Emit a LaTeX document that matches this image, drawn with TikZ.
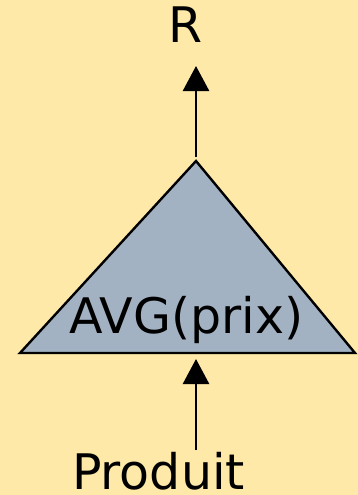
\documentclass[tikz,border=0pt]{standalone}
\usepackage{fontspec}
\setmainfont{DejaVu Sans}
\usetikzlibrary{arrows.meta}
\definecolor{bgyellow}{HTML}{FEE9A8}
\definecolor{opfill}{HTML}{A3B2C2}
\tikzset{
  lbl/.style={font=\fontsize{49}{58}\selectfont, anchor=base, inner sep=0pt},
  flow/.style={line width=2.6pt, -{Triangle[length=25pt,width=26pt]}},
}
\begin{document}
\begin{tikzpicture}[x=1pt,y=-1pt]
\fill[bgyellow] (0,0) rectangle (358,495);
\useasboundingbox (0,0) rectangle (358,495);
\coordinate (apex) at (196,161);
\coordinate (bl) at (20,353);
\coordinate (br) at (355,353);
\draw[fill=opfill, line width=2.4pt, line join=miter] (apex) -- (br) -- (bl) -- cycle;
\node[lbl] (avg) at (186.5,333) {AVG(prix)};
\node[lbl] (r) at (185.5,43) {R};
\node[lbl] (prod) at (158.5,489) {Produit};
\coordinate (rtip) at (196,66);
\coordinate (ptop) at (196,157);
\coordinate (btip) at (196,359);
\coordinate (pbot) at (196,450);
\draw[flow] (ptop) -- (rtip);
\draw[flow] (pbot) -- (btip);
\end{tikzpicture}
\end{document}
